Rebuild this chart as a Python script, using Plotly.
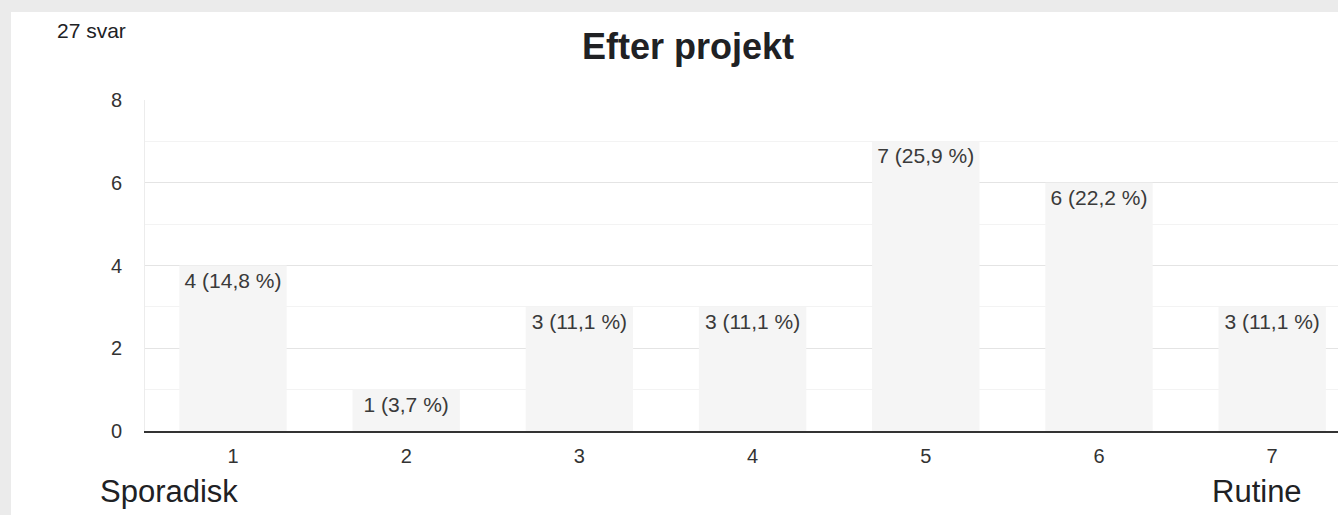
import plotly.graph_objects as go

# Survey answers on a 1-7 scale
scale = [1, 2, 3, 4, 5, 6, 7]
counts = [4, 1, 3, 3, 7, 6, 3]
percents = [14.8, 3.7, 11.1, 11.1, 25.9, 22.2, 11.1]
y_ticks = [0, 2, 4, 6, 8]

labels = [f"{c} ({str(p).replace('.', ',')} %)" for c, p in zip(counts, percents)]

W, H = 1338, 515
L, R, T, B = 145, 0, 100, 84
pw, ph = W - L - R, H - T - B


def px(x):
    return (x - L) / pw


def py(y):
    return (H - B - y) / ph


font = "Liberation Sans, Arial, Helvetica, sans-serif"

bars = go.Bar(x=scale, y=counts, width=0.62,
              marker=dict(color="#f5f5f5", line=dict(width=0)),
              text=labels, textposition="inside", insidetextanchor="end",
              constraintext="none",
              textfont=dict(family=font, size=21, color="#3a3a3a"),
              hoverinfo="skip")

layout = go.Layout(
    width=W, height=H,
    margin=dict(l=L, r=R, t=T, b=B),
    paper_bgcolor="#ebebeb",
    plot_bgcolor="rgba(0,0,0,0)",
    showlegend=False,
    font=dict(family=font, color="#333333"),
    xaxis=dict(range=[0.492, 7.38], tickvals=scale, showgrid=False,
               zeroline=False, showline=True, linecolor="#333333", linewidth=1.5,
               ticks="", tickfont=dict(size=20, color="#333333"),
               ticklabelstandoff=6),
    yaxis=dict(range=[0, 8], tickvals=y_ticks, showgrid=True,
               gridcolor="#e4e4e4", gridwidth=1, zeroline=False,
               showline=True, linecolor="#ececec", linewidth=1,
               ticks="", tickfont=dict(size=20, color="#333333"),
               ticklabelstandoff=18,
               minor=dict(dtick=1, showgrid=True, gridcolor="#f3f3f3", gridwidth=1)),
    shapes=[dict(type="rect", xref="paper", yref="paper", layer="below",
                 x0=px(11), x1=px(W + 5), y0=py(H + 5), y1=py(12),
                 fillcolor="white", line=dict(width=0))],
    annotations=[
        dict(text="<b>Efter projekt</b>", xref="paper", yref="paper",
             x=px(688), y=py(47), xanchor="center", yanchor="middle",
             showarrow=False, font=dict(size=36, color="#202124")),
        dict(text="27 svar", xref="paper", yref="paper",
             x=px(91), y=py(30), xanchor="center", yanchor="middle",
             showarrow=False, font=dict(size=21, color="#202124")),
        dict(text="Sporadisk", xref="paper", yref="paper",
             x=px(169), y=py(492), xanchor="center", yanchor="middle",
             showarrow=False, font=dict(size=31, color="#202124")),
        dict(text="Rutine", xref="paper", yref="paper",
             x=px(1257), y=py(492), xanchor="center", yanchor="middle",
             showarrow=False, font=dict(size=31, color="#202124")),
    ],
)

fig = go.Figure(data=[bars], layout=layout)
fig.write_html("out.html", config={"displayModeBar": False},
               post_script="document.body.style.margin='0px';")
